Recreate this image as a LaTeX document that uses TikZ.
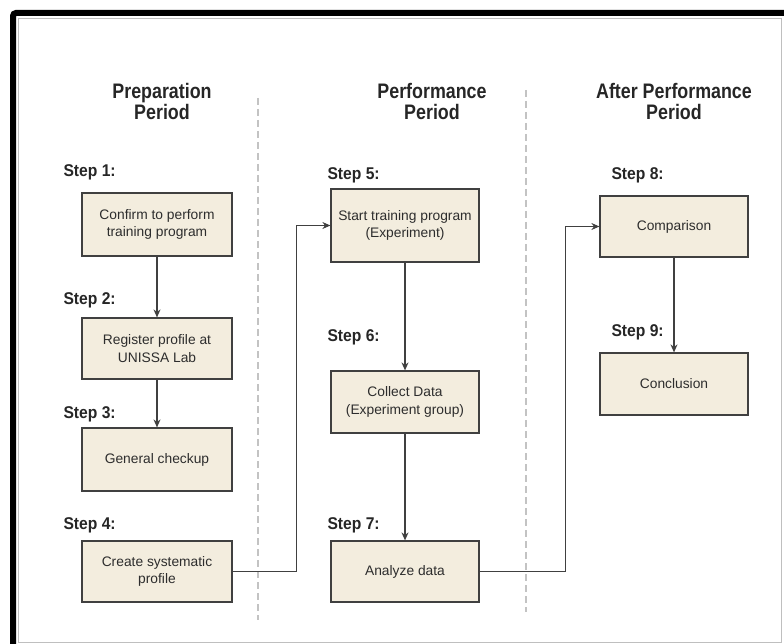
\documentclass[tikz,border=0pt]{standalone}
\usepackage{fontspec}
\setmainfont{Liberation Sans}
\newfontfamily\headfont[FakeStretch=0.85]{Liberation Sans}
\newfontfamily\stepfont[FakeStretch=0.92]{Liberation Sans}
\usepackage{xcolor}
\usetikzlibrary{arrows.meta, positioning}
\definecolor{boxbeige}{RGB}{243, 237, 222}
\definecolor{edgegray}{RGB}{64, 64, 64}
\definecolor{dashgray}{RGB}{195, 195, 195}
\definecolor{textgray}{RGB}{45, 45, 45}

\begin{document}
\begin{tikzpicture}[x=1pt, y=-1pt, align=center]
  % Styles
  \tikzstyle{stepbox} = [rectangle, draw=edgegray, line width=1.2pt, fill=boxbeige, text=textgray, inner sep=0pt, font=\fontsize{13.8}{17.5}\selectfont]
  \tikzstyle{steplbl} = [anchor=west, text=black!85, font=\stepfont\bfseries\fontsize{17}{20}\selectfont]
  \tikzstyle{period} = [text=black!85, font=\headfont\bfseries\fontsize{21}{21}\selectfont]
  \tikzstyle{arrow} = [line width=1.1pt, -{Stealth[length=8pt, width=7pt]}, edgegray]
  \tikzstyle{divider} = [dashgray, line width=1.5pt, dash pattern=on 7pt off 4pt]

  \useasboundingbox (0,0) rectangle (784,644);
  % Frame
  \draw [gray!50, line width=0.6pt] (18,18) rectangle (781,642);
  \draw [black, line width=6pt, rounded corners=3pt] (13,660) -- (13,13) -- (800,13);

  % Periods
  \node (prep) [period] at (162,101) {Preparation\\Period};
  \node (perf) [period] at (432,101) {Performance\\Period};
  \node (after) [period] at (674,101) {After Performance\\Period};
  \draw [divider] (258,98) -- (258,620);
  \draw [divider] (526,90) -- (526,612);

  % Preparation Period
  \node (s1) [stepbox, minimum width=150, minimum height=63] at (157,224.5) {Confirm to perform\\training program};
  \node (s2) [stepbox, minimum width=150, minimum height=61] at (157,348.5) {Register profile at\\UNISSA Lab};
  \node (s3) [stepbox, minimum width=150, minimum height=63] at (157,459.5) {General checkup};
  \node (s4) [stepbox, minimum width=150, minimum height=61] at (157,571.5) {Create systematic\\profile};
  \node (l1) [steplbl] at (60,172) {Step 1:};
  \node (l2) [steplbl] at (60,300) {Step 2:};
  \node (l3) [steplbl] at (60,414) {Step 3:};
  \node (l4) [steplbl] at (60,525) {Step 4:};

  % Performance Period
  \node (s5) [stepbox, minimum width=148, minimum height=73] at (405,225.5) {Start training program\\(Experiment)};
  \node (s6) [stepbox, minimum width=148, minimum height=62] at (405,402) {Collect Data\\(Experiment group)};
  \node (s7) [stepbox, minimum width=148, minimum height=61] at (405,571.5) {Analyze data};
  \node (l5) [steplbl] at (324,175) {Step 5:};
  \node (l6) [steplbl] at (324,337) {Step 6:};
  \node (l7) [steplbl] at (324,525) {Step 7:};

  % After Performance Period
  \node (s8) [stepbox, minimum width=148, minimum height=61] at (674,226.5) {Comparison};
  \node (s9) [stepbox, minimum width=148, minimum height=62] at (674,384) {Conclusion};
  \node (l8) [steplbl] at (608,175) {Step 8:};
  \node (l9) [steplbl] at (608,332) {Step 9:};

  % Connections
  \draw [arrow] (s1) -- (s2);
  \draw [arrow] (s2) -- (s3);
  \draw [arrow] (s4.east) -- ++(64,0) |- (s5.west);
  \draw [arrow] (s5) -- (s6);
  \draw [arrow] (s6) -- (s7);
  \draw [arrow] (s7.east) -- ++(86,0) |- (s8.west);
  \draw [arrow] (s8) -- (s9);
\end{tikzpicture}
\end{document}
